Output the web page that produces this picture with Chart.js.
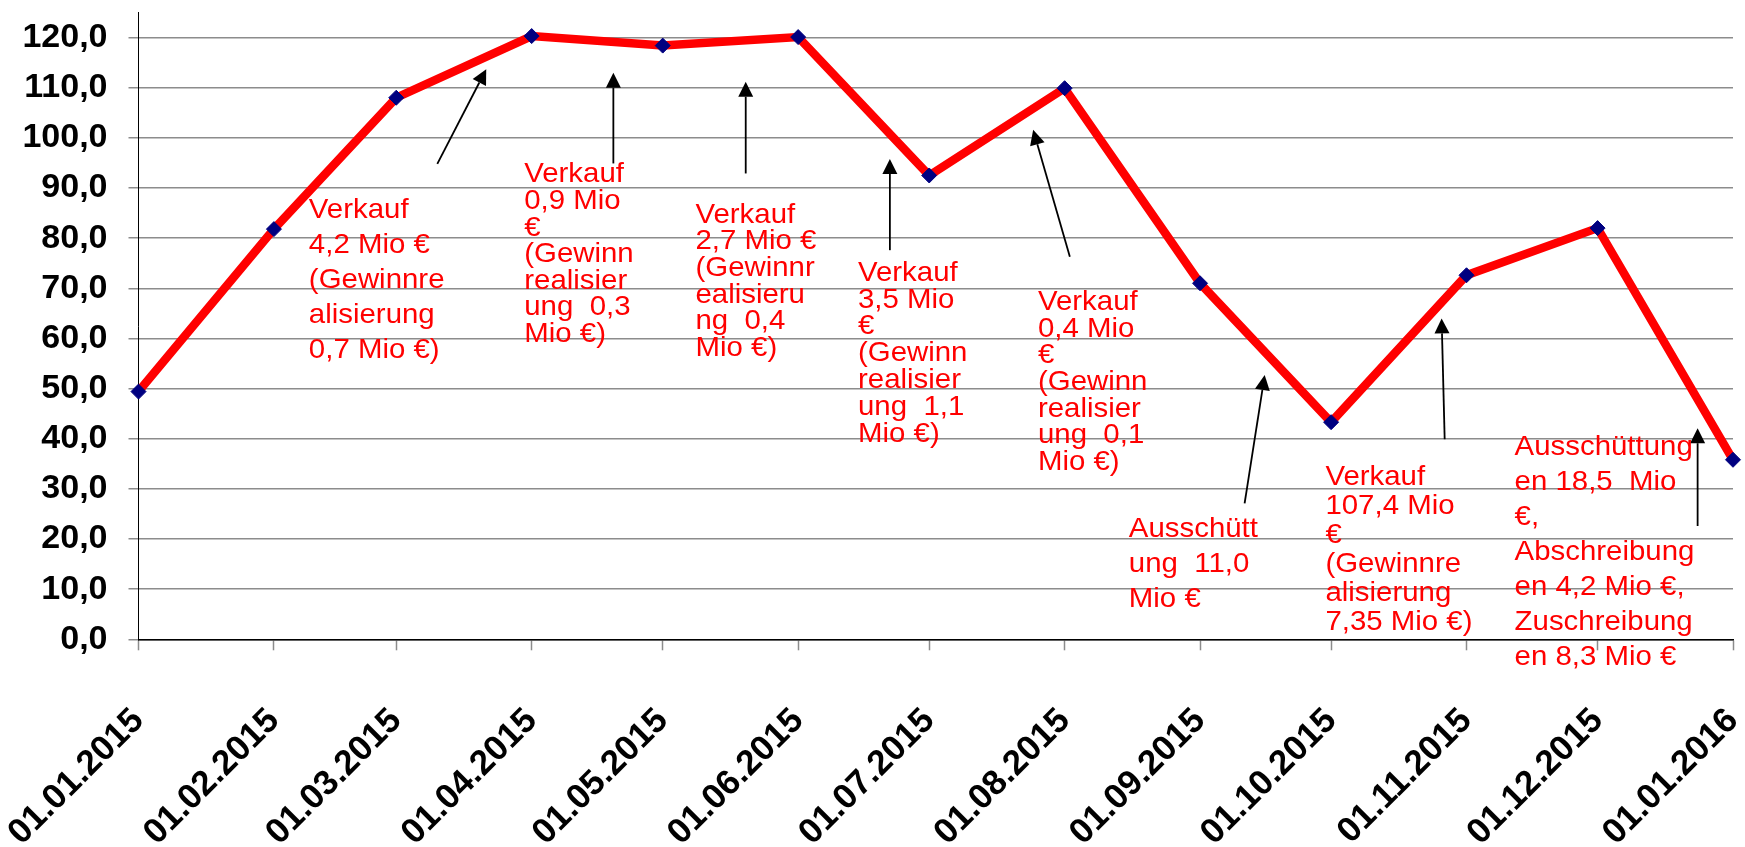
<!DOCTYPE html>
<html>
<head>
<meta charset="utf-8">
<script src="https://cdn.jsdelivr.net/npm/chart.js@4.4.1/dist/chart.umd.min.js"></script>
<style>
  html, body { margin: 0; padding: 0; background: #fff; }
  #wrap { width: 1745px; height: 847px; position: relative; }
</style>
</head>
<body>
<div id="wrap"><canvas id="chart"></canvas></div>
<script>
// ---- data ----
const dates = ['01.01.2015','01.02.2015','01.03.2015','01.04.2015','01.05.2015','01.06.2015',
  '01.07.2015','01.08.2015','01.09.2015','01.10.2015','01.11.2015','01.12.2015','01.01.2016'];
const values = [49.4, 81.8, 108.0, 120.3, 118.4, 120.1, 92.5, 109.9, 71.0, 43.3, 72.6, 82.0, 35.8];
const yTicks = [0, 10, 20, 30, 40, 50, 60, 70, 80, 90, 100, 110, 120];

const noteTexts = [
  'Verkauf\n4,2 Mio €\n(Gewinnre\nalisierung\n0,7 Mio €)',
  'Verkauf\n0,9 Mio\n€\n(Gewinn\nrealisier\nung  0,3\nMio €)',
  'Verkauf\n2,7 Mio €\n(Gewinnr\nealisieru\nng  0,4\nMio €)',
  'Verkauf\n3,5 Mio\n€\n(Gewinn\nrealisier\nung  1,1\nMio €)',
  'Verkauf\n0,4 Mio\n€\n(Gewinn\nrealisier\nung  0,1\nMio €)',
  'Ausschütt\nung  11,0\nMio €',
  'Verkauf\n107,4 Mio\n€\n(Gewinnre\nalisierung\n7,35 Mio €)',
  'Ausschüttung\nen 18,5  Mio\n€,\nAbschreibung\nen 4,2 Mio €,\nZuschreibung\nen 8,3 Mio €'
];

// where the notes and arrows sit, in axis units (day of period, value)
const noteLayout = [
  { at: [39.0, 84.0], lh: 35 },
  { at: [88.3, 91.1], lh: 26.6 },
  { at: [127.5, 83.1], lh: 26.7 },
  { at: [164.7, 71.5], lh: 26.8 },
  { at: [205.9, 65.7], lh: 26.7 },
  { at: [226.7, 20.5], lh: 35 },
  { at: [271.7, 30.8], lh: 29 },
  { at: [315.0, 36.8], lh: 35 }
];
const arrowLayout = [
  [[68.4, 94.8], [79.6, 113.7]],
  [[108.7, 94.9], [108.7, 113.0]],
  [[139.0, 92.9], [139.0, 111.2]],
  [[172.0, 77.6], [172.0, 95.8]],
  [[213.2, 76.3], [204.8, 101.6]],
  [[253.2, 27.1], [257.8, 52.7]],
  [[299.0, 39.9], [298.3, 64.0]],
  [[356.9, 22.6], [356.9, 42.1]]
];

function dayNo(s) {
  const [d, m, y] = s.split('.').map(Number);
  const [d0, m0, y0] = dates[0].split('.').map(Number);
  return Math.round((Date.UTC(y, m - 1, d) - Date.UTC(y0, m0 - 1, d0)) / 864e5);
}
const days = dates.map(dayNo);

const FONT = '"Liberation Sans", Arial, sans-serif';

// arrows + text boxes
const notesPlugin = {
  id: 'notes',
  afterDatasetsDraw(chart) {
    const { ctx, scales: { x, y } } = chart;
    ctx.save();
    ctx.strokeStyle = '#000';
    ctx.fillStyle = '#000';
    ctx.lineWidth = 1.8;
    arrowLayout.forEach(([from, to]) => {
      const x1 = x.getPixelForValue(from[0]), y1 = y.getPixelForValue(from[1]);
      const x2 = x.getPixelForValue(to[0]), y2 = y.getPixelForValue(to[1]);
      const ang = Math.atan2(y2 - y1, x2 - x1);
      const len = 15, hw = 7.5;
      const bx = x2 - Math.cos(ang) * len, by = y2 - Math.sin(ang) * len;
      ctx.beginPath();
      ctx.moveTo(x1, y1);
      ctx.lineTo(bx, by);
      ctx.stroke();
      ctx.beginPath();
      ctx.moveTo(x2, y2);
      ctx.lineTo(bx + Math.sin(ang) * hw, by - Math.cos(ang) * hw);
      ctx.lineTo(bx - Math.sin(ang) * hw, by + Math.cos(ang) * hw);
      ctx.closePath();
      ctx.fill();
    });

    ctx.fillStyle = '#ff0000';
    ctx.font = '28px ' + FONT;
    ctx.textAlign = 'left';
    ctx.textBaseline = 'alphabetic';
    noteTexts.forEach((txt, i) => {
      const lay = noteLayout[i];
      ctx.save();
      ctx.translate(x.getPixelForValue(lay.at[0]), y.getPixelForValue(lay.at[1]));
      ctx.scale(1.05, 1); // the original text runs a little wide
      txt.split('\n').forEach((line, k) => ctx.fillText(line, 0, k * lay.lh));
      ctx.restore();
    });
    ctx.restore();
  }
};

const noPad = s => { s.paddingLeft = s.paddingRight = s.paddingTop = s.paddingBottom = 0; };

new Chart(document.getElementById('chart'), {
  type: 'line',
  data: {
    datasets: [{
      data: values.map((v, i) => ({ x: days[i], y: v })),
      borderColor: '#ff0000',
      borderWidth: 8.5,
      tension: 0,
      clip: false,
      pointStyle: 'rectRot',
      pointRadius: 7.5,
      pointHoverRadius: 7.5,
      pointBackgroundColor: '#000080',
      pointBorderColor: '#000080',
      pointBorderWidth: 1
    }]
  },
  options: {
    responsive: true,
    maintainAspectRatio: false,
    animation: false,
    events: [],
    layout: { padding: { top: 12.5, right: 12, left: 0, bottom: 0 } },
    plugins: { legend: { display: false }, tooltip: { enabled: false } },
    scales: {
      x: {
        type: 'linear',
        min: days[0],
        max: days[days.length - 1],
        afterBuildTicks: s => { s.ticks = days.map(v => ({ value: v })); },
        afterFit: s => { s.height = 207.7; noPad(s); },
        grid: { drawOnChartArea: false, drawTicks: true, tickLength: 11, tickColor: '#8c8c8c', tickWidth: 1.5 },
        border: { color: '#000', width: 1.5 },
        ticks: {
          autoSkip: false,
          minRotation: 45,
          maxRotation: 45,
          padding: 50,
          color: '#000',
          font: { family: FONT, size: 35, weight: 'bold' },
          callback: v => dates[days.indexOf(v)]
        }
      },
      y: {
        min: 0,
        max: 125,
        afterBuildTicks: s => { s.ticks = yTicks.map(v => ({ value: v })); },
        afterFit: s => { s.width = 138.5; noPad(s); },
        grid: { color: '#8c8c8c', lineWidth: 1.5, drawTicks: true, tickLength: 10, tickColor: '#8c8c8c' },
        border: { color: '#000', width: 1 },
        ticks: {
          padding: 21,
          color: '#000',
          font: { family: FONT, size: 34, weight: 'bold' },
          callback: v => v.toFixed(1).replace('.', ',')
        }
      }
    }
  },
  plugins: [notesPlugin]
});
</script>
</body>
</html>
